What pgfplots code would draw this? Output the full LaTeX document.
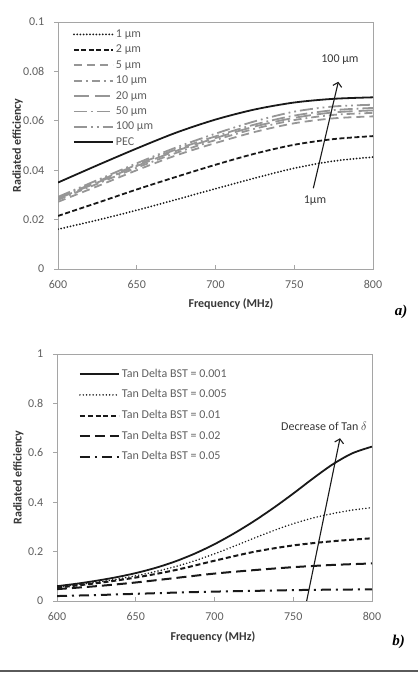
\documentclass[border=0pt]{standalone}
\usepackage{fontspec}
\setmainfont{Carlito}
\newfontfamily\letterfont{Liberation Serif}
\usepackage{pgfplots}
\pgfplotsset{compat=1.18}
\usepackage{pgfplotstable}
\usetikzlibrary{arrows.meta}

\definecolor{framegray}{RGB}{165,165,165}
\definecolor{ticktext}{RGB}{95,95,95}
\definecolor{labeltext}{RGB}{55,55,55}
\definecolor{seriesgray}{RGB}{150,150,150}
\definecolor{ink}{RGB}{25,25,25}

% Radiated efficiency versus frequency for several metal thicknesses
\pgfplotstableread{
f    r1     r2     r5     r10    r20    r50    r100   pec
600 0.0161 0.0215 0.0272 0.0280 0.0285 0.0288 0.0292 0.0350
625 0.0198 0.0268 0.0335 0.0345 0.0350 0.0354 0.0360 0.0420
650 0.0238 0.0322 0.0400 0.0410 0.0417 0.0422 0.0428 0.0488
675 0.0281 0.0373 0.0460 0.0470 0.0478 0.0484 0.0492 0.0552
700 0.0325 0.0422 0.0510 0.0522 0.0530 0.0537 0.0548 0.0605
725 0.0368 0.0467 0.0555 0.0568 0.0577 0.0585 0.0598 0.0646
750 0.0408 0.0503 0.0590 0.0603 0.0612 0.0621 0.0637 0.0674
775 0.0437 0.0526 0.0610 0.0624 0.0634 0.0643 0.0658 0.0689
800 0.0453 0.0538 0.0618 0.0632 0.0642 0.0652 0.0665 0.0695
}\thicknessdata

% Radiated efficiency versus frequency for several BST loss tangents
\pgfplotstableread{
f     t1    t5
600   0.060 0.057
612.5 0.070 0.066
625   0.082 0.076
637.5 0.096 0.088
650   0.113 0.102
662.5 0.134 0.119
675   0.160 0.139
687.5 0.192 0.163
700   0.230 0.191
712.5 0.274 0.222
725   0.323 0.254
737.5 0.377 0.285
750   0.435 0.313
762.5 0.496 0.336
775   0.553 0.354
787.5 0.598 0.368
800   0.625 0.378
}\tanlow

\pgfplotstableread{
f    t10   t20   t50
600 0.054 0.048 0.020
625 0.072 0.060 0.024
650 0.095 0.075 0.029
675 0.125 0.093 0.034
700 0.163 0.111 0.038
725 0.199 0.125 0.041
750 0.225 0.137 0.044
775 0.242 0.146 0.046
800 0.254 0.152 0.047
}\tanhigh

\pgfplotsset{
  effplot/.style={
    scale only axis, width=315bp, height=247bp,
    xmin=600, xmax=800, xtick={600,650,700,750,800},
    axis line style={framegray, line width=0.8bp},
    every tick/.style={framegray, line width=0.8bp},
    major tick length=3.5bp,
    xtick align=inside, ytick align=outside,
    xtick pos=bottom, ytick pos=left,
    scaled y ticks=false,
    tick label style={font=\fontsize{12bp}{14bp}\selectfont, text=ticktext,
      /pgf/number format/assume math mode=true},
    xticklabel style={anchor=center, yshift=-15.3bp},
    yticklabel style={anchor=east, inner sep=0pt, xshift=-10bp,
      /pgf/number format/fixed, /pgf/number format/precision=2},
    label style={font=\bfseries\fontsize{12bp}{14bp}\selectfont, text=labeltext},
    ylabel={Radiated efficiency},
    xlabel={Frequency (MHz)},
    legend cell align=left,
    legend style={draw=none, fill=none, inner sep=0pt, outer sep=0pt,
      column sep=2bp,
      font=\fontsize{12bp}{14bp}\selectfont, text=ticktext,
      nodes={inner sep=0pt, text height=8bp, text depth=2bp}},
    legend image code/.code={\draw[##1] (0bp,0bp) -- (39bp,0bp);},
  },
  blackline/.style={ink, line width=1.6bp, smooth},
  grayline/.style={seriesgray, line width=1.8bp, smooth, line cap=butt},
}

\begin{document}
\begin{tikzpicture}
\useasboundingbox (0,0) rectangle (418bp,681bp);

% ---------- a) metal thickness ----------
\begin{axis}[effplot,
  at={(58bp,412bp)}, anchor=south west,
  ymin=0, ymax=0.1, ytick={0,0.02,0.04,0.06,0.08,0.1},
  xlabel style={at={(rel axis cs:0.549,-0.1417)}, anchor=center},
  ylabel style={at={(rel axis cs:-0.1286,0.5)}, anchor=center},
  legend style={at={(rel axis cs:0.0476,0.970)}, anchor=north west, row sep=5.4bp},
]
\addplot[blackline, line width=2bp, line cap=round, dash pattern=on 0bp off 3.2bp] table[x=f,y=r1] {\thicknessdata};
\addlegendentry{1 µm}
\addplot[blackline, line width=1.8bp, dash pattern=on 5bp off 2.5bp] table[x=f,y=r2] {\thicknessdata};
\addlegendentry{2 µm}
\addplot[grayline, dash pattern=on 8bp off 5bp] table[x=f,y=r5] {\thicknessdata};
\addlegendentry{5 µm}
\addplot[grayline, dash pattern=on 8bp off 4bp on 1.8bp off 4bp] table[x=f,y=r10] {\thicknessdata};
\addlegendentry{10 µm}
\addplot[grayline, dash pattern=on 15bp off 6bp] table[x=f,y=r20] {\thicknessdata};
\addlegendentry{20 µm}
\addplot[grayline, dash pattern=on 13bp off 4bp on 1.8bp off 4bp] table[x=f,y=r50] {\thicknessdata};
\addlegendentry{50 µm}
\addplot[grayline, dash pattern=on 13bp off 4bp on 1.8bp off 4bp on 1.8bp off 4bp] table[x=f,y=r100] {\thicknessdata};
\addlegendentry{100 µm}
\addplot[blackline, line width=1.8bp] table[x=f,y=pec] {\thicknessdata};
\addlegendentry{PEC}

\draw[ink, line width=1.1bp, -{Straight Barb[length=4bp,width=9bp]}]
  (axis cs:762.1,0.0327) -- (axis cs:778.0,0.0758);
\node[font=\fontsize{12bp}{14bp}\selectfont, text=labeltext] at (axis cs:779,0.0846) {100 µm};
\node[font=\fontsize{12bp}{14bp}\selectfont, text=labeltext] at (axis cs:763.2,0.0277) {1µm};
\end{axis}

% ---------- b) BST loss tangent ----------
\begin{axis}[effplot,
  at={(57bp,80bp)}, anchor=south west,
  ymin=0, ymax=1, ytick={0,0.2,0.4,0.6,0.8,1},
  xlabel style={at={(rel axis cs:0.495,-0.1445)}, anchor=center},
  ylabel style={at={(rel axis cs:-0.123,0.5)}, anchor=center},
  legend style={at={(rel axis cs:0.0698,0.938)}, anchor=north west, row sep=10.6bp},
]
\addplot[blackline, line width=1.8bp] table[x=f,y=t1] {\tanlow};
\addlegendentry{Tan Delta BST = 0.001}
\addplot[blackline, line width=1.7bp, line cap=round, dash pattern=on 0bp off 3.3bp] table[x=f,y=t5] {\tanlow};
\addlegendentry{Tan Delta BST = 0.005}
\addplot[blackline, line width=2bp, dash pattern=on 5bp off 2.8bp] table[x=f,y=t10] {\tanhigh};
\addlegendentry{Tan Delta BST = 0.01}
\addplot[blackline, line width=2bp, dash pattern=on 10bp off 5bp] table[x=f,y=t20] {\tanhigh};
\addlegendentry{Tan Delta BST = 0.02}
\addplot[blackline, line width=2bp, dash pattern=on 10bp off 5bp on 2bp off 5bp] table[x=f,y=t50] {\tanhigh};
\addlegendentry{Tan Delta BST = 0.05}

\draw[ink, line width=1.1bp, -{Straight Barb[length=4bp,width=9bp]}]
  (axis cs:758.5,0) -- (axis cs:779.7,0.659);
\node[font=\fontsize{12bp}{14bp}\selectfont, text=labeltext] at (axis cs:769.5,0.7085) {Decrease of Tan $\delta$};
\end{axis}

% panel letters and closing rule
\node[font=\letterfont\bfseries\itshape\fontsize{15bp}{18bp}\selectfont] at (401bp,369bp) {a)};
\node[font=\letterfont\bfseries\itshape\fontsize{15bp}{18bp}\selectfont] at (398.5bp,39.3bp) {b)};
\draw[line width=1.1bp, color={rgb,255:red,90;green,90;blue,90}] (0bp,10bp) -- (418bp,10bp);
\end{tikzpicture}
\end{document}
